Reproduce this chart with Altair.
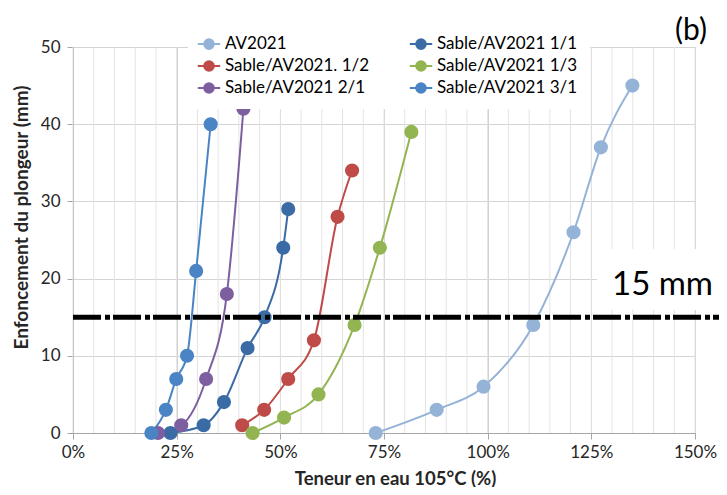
import altair as alt
import pandas as pd

# legend is laid out column by column: column 1 then column 2
series_names = ["AV2021", "Sable/AV2021. 1/2", "Sable/AV2021 2/1",
                "Sable/AV2021 1/1", "Sable/AV2021 1/3", "Sable/AV2021 3/1"]
series_colors = ["#95B3D7", "#BE4B48", "#7D5FA0", "#3B6BA5", "#92B552", "#4A84C4"]
draw_order = ["AV2021", "Sable/AV2021 1/1", "Sable/AV2021. 1/2",
              "Sable/AV2021 1/3", "Sable/AV2021 2/1", "Sable/AV2021 3/1"]

av_x = [73.0, 87.7, 99.0, 111.0, 120.7, 127.3, 134.9]
av_y = [0, 3, 6, 14, 26, 37, 45]
s11_x = [23.5, 31.5, 36.4, 42.1, 46.2, 50.7, 51.9]
s11_y = [0, 1, 4, 11, 15, 24, 29]
s12_x = [40.8, 46.1, 51.9, 58.1, 63.8, 67.3]
s12_y = [1, 3, 7, 12, 28, 34]
s13_x = [43.3, 50.9, 59.2, 67.9, 74.0, 81.6]
s13_y = [0, 2, 5, 14, 24, 39]
s21_x = [20.5, 26.1, 32.1, 37.1, 41.1]
s21_y = [0, 1, 7, 18, 42]
s31_x = [18.9, 22.4, 24.9, 27.5, 29.7, 33.2]
s31_y = [0, 3, 7, 10, 21, 40]

x_ticks = [0, 25, 50, 75, 100, 125, 150]
y_ticks = [0, 5, 10, 15, 20, 25, 30, 35, 40, 45, 50]
minor_x_grid = list(range(0, 151, 5))
threshold = 15

rows = []
for name, xs_, ys_ in [(draw_order[0], av_x, av_y), (draw_order[1], s11_x, s11_y),
                       (draw_order[2], s12_x, s12_y), (draw_order[3], s13_x, s13_y),
                       (draw_order[4], s21_x, s21_y), (draw_order[5], s31_x, s31_y)]:
    for i, (a, b) in enumerate(zip(xs_, ys_)):
        rows.append({"serie": name, "teneur": a, "enf": b, "i": i,
                     "k": draw_order.index(name)})
df = pd.DataFrame(rows)

FONT = "Lato"
xs = alt.Scale(domain=[0, 150], nice=False)
ys = alt.Scale(domain=[0, 50], nice=False)

sym = "M-1.4,0L1.4,0M-0.6,0A0.6,0.6,0,1,1,0.6,0A0.6,0.6,0,1,1,-0.6,0Z"

color = alt.Color("serie:N", scale=alt.Scale(domain=series_names, range=series_colors),
                  legend=alt.Legend(title=None, orient="none", legendX=115, legendY=-24,
                                    columns=2, columnPadding=35, rowPadding=4,
                                    padding=12, fillColor="white",
                                    symbolType=sym, symbolSize=256, symbolStrokeWidth=2,
                                    labelFont=FONT, labelFontSize=17, labelColor="black",
                                    labelOffset=7))

minor = alt.Chart(pd.DataFrame({"g": minor_x_grid})).mark_rule(
    color="#E3E3E3", strokeWidth=1).encode(
    x=alt.X("g:Q", scale=xs), y=alt.value(0), y2=alt.value(386))

base = alt.Chart(df)

lines = base.mark_line(strokeWidth=2, interpolate="monotone").encode(
    x=alt.X("teneur:Q", scale=xs,
            axis=alt.Axis(values=x_ticks, labelExpr="datum.value + '%'",
                          title="Teneur en eau 105°C (%)", grid=True, gridColor="#CFCFCF",
                          domainColor="#A6A6A6", tickColor="#A6A6A6", tickSize=6,
                          labelFont=FONT, labelFontSize=17, labelColor="#262626",
                          labelPadding=5, labelFlush=False,
                          titleFont=FONT, titleFontSize=18.5,
                          titleFontWeight="bold", titleColor="#262626",
                          titleX=322, titleY=45, titleBaseline="middle")),
    y=alt.Y("enf:Q", scale=ys,
            axis=alt.Axis(values=y_ticks, title="Enfoncement du plongeur (mm)",
                          grid=True, gridColor="#D4D4D4",
                          domainColor="#A6A6A6", tickColor="#A6A6A6", tickSize=6,
                          labelFont=FONT, labelFontSize=17, labelColor="#262626",
                          labelPadding=7, labelFlush=False,
                          titleFont=FONT, titleFontSize=19,
                          titleFontWeight="bold", titleColor="#262626",
                          titleX=-52, titleY=170, titleBaseline="middle")),
    color=color,
    detail="serie:N",
    order="i:Q",
)

points = base.mark_point(filled=True, size=200, opacity=1).encode(
    x=alt.X("teneur:Q", scale=xs),
    y=alt.Y("enf:Q", scale=ys),
    color=color,
    order="k:Q",
)

box = alt.Chart(pd.DataFrame({"a": [0]})).mark_rect(color="white").encode(
    x=alt.value(524), x2=alt.value(660), y=alt.value(202), y2=alt.value(263))

dash = alt.Chart(pd.DataFrame({"v": [threshold], "x0": [0], "x1": [156]})).mark_rule(
    color="black", strokeWidth=5, strokeDash=[28, 4, 5, 3]).encode(
    y=alt.Y("v:Q", scale=ys), x=alt.X("x0:Q", scale=xs), x2="x1:Q")

lbl15 = alt.Chart(pd.DataFrame({"t": ["15 mm"]})).mark_text(
    font=FONT, fontSize=33, align="left", baseline="alphabetic", color="black").encode(
    x=alt.value(539), y=alt.value(248), text="t:N")

lblb = alt.Chart(pd.DataFrame({"t": ["(b)"]})).mark_text(
    font=FONT, fontSize=30, align="center", baseline="alphabetic", color="black").encode(
    x=alt.value(618), y=alt.value(-7), text="t:N")

chart = alt.layer(minor, box, lines, points, dash, lbl15, lblb).properties(
    width=622, height=386,
    autosize=alt.AutoSizeParams(type="none"),
    padding={"left": 65, "top": 39, "right": 24, "bottom": 54},
).configure_view(stroke=None).configure(background="white")

chart.save("out.html", embed_options={"renderer": "svg", "actions": False})
